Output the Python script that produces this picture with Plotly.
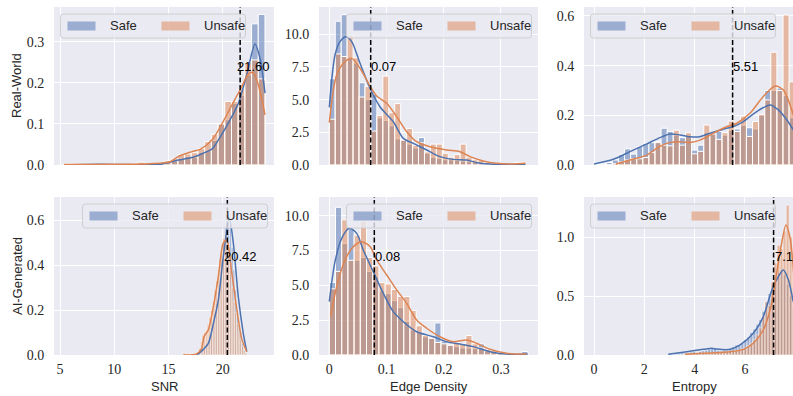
import plotly.graph_objects as go

W, H = 793, 396

# ---------------- data ----------------
# Panel 1: Real-World / SNR
rw_snr_bin_start = 5.37
rw_snr_bin_width = 0.6173
rw_snr_safe = [0.002, 0.001, 0.002, 0.002, 0.001, 0.002, 0.001, 0.0, 0.001, 0.001,
               0.002, 0.001, 0.002, 0.003, 0.004, 0.006, 0.01, 0.015, 0.02, 0.018,
               0.03, 0.035, 0.06, 0.1, 0.11, 0.15, 0.17, 0.22, 0.344, 0.367]
rw_snr_unsafe = [0.002, 0.003, 0.001, 0.002, 0.002, 0.001, 0.002, 0.003, 0.002, 0.002,
                 0.004, 0.007, 0.003, 0.004, 0.006, 0.01, 0.015, 0.025, 0.027, 0.03,
                 0.04, 0.057, 0.075, 0.1, 0.155, 0.155, 0.185, 0.25, 0.256, 0.21]
rw_snr_kde_safe_x = [5.37, 8.69, 11.45, 14.22, 15.9, 17.4, 18.3, 19.05, 19.8, 20.67, 21.43, 22.21, 22.97, 23.43, 23.89]
rw_snr_kde_safe_y = [0.0005, 0.002, 0.001, 0.002, 0.012, 0.02, 0.03, 0.04, 0.07, 0.11, 0.15, 0.22, 0.295, 0.26, 0.175]
rw_snr_kde_unsafe_x = [5.37, 11.0, 13.29, 15.14, 16.0, 17.1, 17.9, 19.06, 20.12, 21.0, 21.73, 22.37, 22.8, 23.28, 23.89]
rw_snr_kde_unsafe_y = [0.001, 0.002, 0.003, 0.008, 0.022, 0.032, 0.038, 0.063, 0.11, 0.154, 0.19, 0.222, 0.225, 0.195, 0.122]

# Panel 2: Real-World / Edge Density
rw_edge_bin_start = 0.0
rw_edge_bin_width = 0.0104
rw_edge_safe = [6.6, 11.0, 11.5, 8.2, 7.8, 6.3, 5.0, 5.4, 3.6, 3.4, 3.0, 2.0, 1.9, 1.6, 1.3, 2.1,
                0.9, 0.6, 0.5, 0.4, 0.4, 0.35, 0.3, 0.25, 0.2, 0.1, 0.05, 0.05, 0.05, 0.0,
                0.05, 0.05, 0.05]
rw_edge_unsafe = [3.5, 8.5, 8.3, 9.9, 8.2, 5.2, 6.0, 2.6, 3.8, 6.8, 4.0, 4.7, 1.9, 2.8, 1.5, 1.7,
                  1.0, 1.6, 1.6, 0.9, 0.6, 0.8, 1.6, 0.6, 0.4, 0.35, 0.2, 0.1, 0.05, 0.05,
                  0.1, 0.2, 0.2]
rw_edge_kde_safe_x = [0.0, 0.0100, 0.0187, 0.0292, 0.0392, 0.0537, 0.0712, 0.0886, 0.1119, 0.1294,
                      0.1469, 0.1703, 0.1935, 0.2168, 0.2402, 0.2577, 0.2809, 0.3101, 0.343]
rw_edge_kde_safe_y = [4.41, 8.42, 9.44, 9.82, 9.44, 7.78, 5.87, 4.46, 3.31, 2.04,
                      1.66, 1.15, 0.64, 0.43, 0.38, 0.18, 0.08, 0.05, 0.05]
rw_edge_kde_unsafe_x = [0.0, 0.0129, 0.0274, 0.0392, 0.0537, 0.0712, 0.0829, 0.1003, 0.1178, 0.1353,
                        0.1528, 0.1760, 0.2052, 0.2285, 0.2460, 0.2692, 0.2927, 0.3217, 0.343]
rw_edge_kde_unsafe_y = [3.24, 6.89, 7.9, 8.16, 7.4, 6.04, 5.28, 4.72, 3.7, 2.55,
                        1.78, 1.4, 1.15, 1.02, 0.64, 0.31, 0.13, 0.08, 0.13]

# Panel 3: Real-World / Entropy
rw_ent_bin_start = 0.0
rw_ent_bin_width = 0.2424
rw_ent_safe = [0.003, 0.004, 0.01, 0.02, 0.043, 0.065, 0.044, 0.074, 0.087, 0.09, 0.095,
               0.148, 0.135, 0.12, 0.11, 0.115, 0.06, 0.08, 0.13, 0.13, 0.135, 0.12,
               0.14, 0.145, 0.16, 0.15, 0.145, 0.2, 0.3, 0.3, 0.31, 0.28, 0.19]
rw_ent_unsafe = [0.0, 0.0, 0.0, 0.005, 0.012, 0.02, 0.025, 0.025, 0.03, 0.05, 0.09,
                 0.08, 0.077, 0.14, 0.08, 0.13, 0.045, 0.055, 0.161, 0.125, 0.103, 0.13,
                 0.177, 0.135, 0.197, 0.115, 0.175, 0.204, 0.262, 0.454, 0.3, 0.604, 0.335]
rw_ent_kde_safe_x = [0.0, 0.767, 1.43, 2.097, 2.62, 3.02, 3.42, 3.82, 4.21, 4.61, 5.14, 5.54, 5.94, 6.47, 7.0, 7.33, 7.67, 7.93]
rw_ent_kde_safe_y = [0.004, 0.023, 0.054, 0.085, 0.11, 0.125, 0.121, 0.114, 0.114, 0.128, 0.144, 0.155, 0.175, 0.215, 0.242, 0.222, 0.181, 0.14]
rw_ent_kde_unsafe_x = [0.87, 1.43, 2.097, 2.49, 2.89, 3.29, 3.82, 4.21, 4.75, 5.28, 5.68, 6.2, 6.73, 7.2, 7.53, 7.93]
rw_ent_kde_unsafe_y = [0.004, 0.02, 0.04, 0.067, 0.087, 0.094, 0.091, 0.1, 0.128, 0.155, 0.168, 0.208, 0.276, 0.318, 0.302, 0.2]

# Panel 4: AI-Generated / SNR
ai_snr_bin_start = 16.36
ai_snr_bin_width = 0.158
ai_snr_safe = [0, 0, 0, 0, 0, 0, 0, 0.002, 0.005, 0.01, 0.02, 0.03, 0.04, 0.05, 0.06, 0.09,
               0.12, 0.15, 0.19, 0.23, 0.28, 0.34, 0.42, 0.5, 0.57, 0.62, 0.64, 0.58, 0.48,
               0.38, 0.29, 0.2, 0.13, 0.09, 0.05, 0.02, 0.01]
ai_snr_unsafe = [0.01, 0.0, 0.005, 0.0, 0.005, 0.0, 0.005, 0.01, 0.015, 0.03, 0.06, 0.09, 0.1,
                 0.11, 0.14, 0.17, 0.2, 0.24, 0.29, 0.33, 0.38, 0.43, 0.48, 0.52, 0.54, 0.5,
                 0.45, 0.38, 0.3, 0.24, 0.19, 0.14, 0.1, 0.07, 0.04, 0.02, 0.01]
ai_snr_kde_safe_x = [17.60, 18.21, 18.67, 19.13, 19.59, 20.05, 20.60, 20.97, 21.43, 21.89, 22.21]
ai_snr_kde_safe_y = [0.0, 0.025, 0.052, 0.14, 0.245, 0.44, 0.61, 0.5, 0.26, 0.097, 0.015]
ai_snr_kde_unsafe_x = [16.36, 17.60, 18.06, 18.27, 18.67, 19.13, 19.59, 20.05, 20.36, 20.82, 21.29, 21.75, 22.21]
ai_snr_kde_unsafe_y = [0.0, 0.005, 0.03, 0.082, 0.112, 0.215, 0.35, 0.5, 0.513, 0.37, 0.205, 0.072, 0.015]

# Panel 5: AI-Generated / Edge Density
ai_edge_bin_start = 0.0
ai_edge_bin_width = 0.01085
ai_edge_safe = [5.2, 10.6, 8.0, 9.1, 6.8, 7.0, 6.0, 5.6, 4.6, 4.4, 3.9, 3.4, 2.4, 1.8, 1.6, 1.3,
                1.2, 2.3, 1.0, 0.7, 0.6, 0.5, 0.5, 0.45, 0.8, 0.3, 0.2, 0.1, 0.05, 0.05, 0.1, 0.25]
ai_edge_unsafe = [4.75, 6.0, 9.7, 6.8, 8.6, 9.6, 7.0, 6.4, 5.2, 5.1, 4.7, 4.2, 4.2, 3.2, 2.1, 1.4,
                  1.2, 0.9, 0.8, 0.7, 0.9, 0.8, 1.4, 0.8, 0.5, 0.4, 0.3, 0.15, 0.05, 0.05, 0.05, 0.05]
ai_edge_kde_safe_x = [0.0, 0.0100, 0.0217, 0.035, 0.0479, 0.0594, 0.0769, 0.0944, 0.1119, 0.1294,
                      0.1528, 0.1818, 0.2052, 0.2285, 0.2517, 0.2809, 0.3159, 0.347]
ai_edge_kde_safe_y = [3.83, 6.7, 8.37, 9.09, 8.73, 7.54, 5.98, 4.43, 3.11, 2.39,
                      1.67, 1.31, 0.95, 0.79, 0.6, 0.24, 0.05, 0.07]
ai_edge_kde_unsafe_x = [0.0024, 0.0129, 0.0274, 0.042, 0.0566, 0.0712, 0.0829, 0.1003, 0.1178, 0.1353,
                        0.1528, 0.1703, 0.1935, 0.2168, 0.2402, 0.2577, 0.2809, 0.3101, 0.345]
ai_edge_kde_unsafe_y = [2.75, 4.9, 6.82, 7.78, 8.13, 7.78, 6.82, 5.74, 4.67, 3.71,
                        2.51, 1.92, 1.31, 0.95, 1.08, 0.84, 0.41, 0.12, 0.07]

# Panel 6: AI-Generated / Entropy
ai_ent_bin_start = 2.96
ai_ent_bin_width = 0.12
ai_ent_safe = [0.01, 0.0, 0.01, 0.015, 0.02, 0.015, 0.02, 0.025, 0.03, 0.02, 0.03, 0.035,
               0.04, 0.05, 0.06, 0.055, 0.04, 0.035, 0.04, 0.04, 0.05, 0.07, 0.085, 0.08,
               0.1, 0.13, 0.15, 0.19, 0.22, 0.26, 0.3, 0.37, 0.45, 0.52, 0.6, 0.66,
               0.7, 0.72, 0.68, 0.6, 0.5, 0.4]
ai_ent_unsafe = [0, 0, 0, 0, 0, 0.005, 0.01, 0.01, 0.01, 0.015, 0.01, 0.015,
                 0.02, 0.015, 0.02, 0.02, 0.02, 0.025, 0.02, 0.03, 0.03, 0.03, 0.035, 0.04,
                 0.05, 0.06, 0.08, 0.1, 0.13, 0.17, 0.23, 0.33, 0.45, 0.42, 0.62, 0.78,
                 0.93, 0.9, 1.05, 1.27, 1.0, 0.75]
ai_ent_kde_safe_x = [2.95, 3.69, 4.35, 4.68, 4.88, 5.41, 5.81, 6.33, 6.73, 7.07, 7.33, 7.53, 7.73, 7.92]
ai_ent_kde_safe_y = [0.006, 0.028, 0.048, 0.057, 0.05, 0.048, 0.085, 0.184, 0.325, 0.55, 0.664, 0.72, 0.636, 0.452]
ai_ent_kde_unsafe_x = [3.62, 4.35, 4.88, 5.41, 5.94, 6.33, 6.73, 7.0, 7.26, 7.46, 7.63, 7.79, 7.95]
ai_ent_kde_unsafe_y = [0.006, 0.014, 0.02, 0.028, 0.048, 0.099, 0.212, 0.381, 0.692, 0.946, 1.102, 1.0, 0.664]

# thresholds (dashed lines) and their labels
thresholds = [21.60, 0.0724, 5.51, 20.42, 0.0787, 7.14]
threshold_labels = ["21.60", "0.07", "5.51", "20.42", "0.08", "7.14"]

series_names = ["Safe", "Unsafe"]
row_names = ["Real-World", "AI-Generated"]
col_names = ["SNR", "Edge Density", "Entropy"]
x_ticks = [[5, 10, 15, 20], [0.0, 0.1, 0.2, 0.3], [0, 2, 4, 6, 8]]
y_ticks = [[0.0, 0.1, 0.2, 0.3], [0.0, 2.5, 5.0, 7.5, 10.0], [0.0, 0.2, 0.4, 0.6],
           [0.0, 0.2, 0.4, 0.6], [0.0, 2.5, 5.0, 7.5, 10.0], [0.0, 0.5, 1.0]]

panels = [
    (rw_snr_bin_start, rw_snr_bin_width, rw_snr_safe, rw_snr_unsafe,
     rw_snr_kde_safe_x, rw_snr_kde_safe_y, rw_snr_kde_unsafe_x, rw_snr_kde_unsafe_y),
    (rw_edge_bin_start, rw_edge_bin_width, rw_edge_safe, rw_edge_unsafe,
     rw_edge_kde_safe_x, rw_edge_kde_safe_y, rw_edge_kde_unsafe_x, rw_edge_kde_unsafe_y),
    (rw_ent_bin_start, rw_ent_bin_width, rw_ent_safe, rw_ent_unsafe,
     rw_ent_kde_safe_x, rw_ent_kde_safe_y, rw_ent_kde_unsafe_x, rw_ent_kde_unsafe_y),
    (ai_snr_bin_start, ai_snr_bin_width, ai_snr_safe, ai_snr_unsafe,
     ai_snr_kde_safe_x, ai_snr_kde_safe_y, ai_snr_kde_unsafe_x, ai_snr_kde_unsafe_y),
    (ai_edge_bin_start, ai_edge_bin_width, ai_edge_safe, ai_edge_unsafe,
     ai_edge_kde_safe_x, ai_edge_kde_safe_y, ai_edge_kde_unsafe_x, ai_edge_kde_unsafe_y),
    (ai_ent_bin_start, ai_ent_bin_width, ai_ent_safe, ai_ent_unsafe,
     ai_ent_kde_safe_x, ai_ent_kde_safe_y, ai_ent_kde_unsafe_x, ai_ent_kde_unsafe_y),
]

# ---------------- style / geometry ----------------
BLUE = "#4C72B0"
ORANGE = "#DD8452"
BLUE_FILL = "rgba(76,114,176,0.5)"
ORANGE_FILL = "rgba(221,132,82,0.5)"
BG = "#EAEAF2"
TXT = "#262626"
SANS = "Liberation Sans, Arial, sans-serif"
SERIF = "Liberation Serif, Times New Roman, serif"

COL_L = [54, 319, 584]
COL_R = [274, 538, 793]
COL_R_FULL = [274, 538, 804]
ROW_T = [7, 197]
ROW_B = [165, 355]
X_RANGES = [[4.447, 24.72], [-0.018, 0.3649], [-0.4, 7.912]]
Y_MAX = [0.385, 12.09, 0.636, 0.705, 11.34, 1.339]
EDGE_W = [1.0, 1.0, 1.0, 0.5, 1.0, 0.5]
LABEL_SHIFT = [-5, -2, -1.5, -5.5, -1.5, -1]
LEGEND_LEFT = [True, False, True, False, False, True]


def fx(px):
    return px / W


def fy(py):
    return 1 - py / H


fig = go.Figure()
layout = dict(
    width=W, height=H, autosize=False,
    margin=dict(l=0, r=0, t=0, b=0, autoexpand=False),
    paper_bgcolor="white", plot_bgcolor=BG,
    barmode="overlay", showlegend=False, hovermode=False,
    font=dict(family=SANS, size=13, color=TXT),
)
shapes = []
annotations = []

for p, (b0, bw, safe, unsafe, ksx, ksy, kux, kuy) in enumerate(panels):
    r, c = divmod(p, 3)
    n = p + 1
    xa = "x" if n == 1 else f"x{n}"
    ya = "y" if n == 1 else f"y{n}"
    for vals, fill in ((safe, BLUE_FILL), (unsafe, ORANGE_FILL)):
        fig.add_trace(go.Bar(
            x0=b0 + bw / 2, dx=bw, y=vals, width=bw,
            marker=dict(color=fill, line=dict(color="white", width=EDGE_W[p])),
            xaxis=xa, yaxis=ya,
        ))
    for kx, ky, col in ((ksx, ksy, BLUE), (kux, kuy, ORANGE)):
        fig.add_trace(go.Scatter(
            x=kx, y=ky, mode="lines", line=dict(color=col, width=1.5, shape="spline", smoothing=0.8),
            xaxis=xa, yaxis=ya,
        ))

    xkey = "xaxis" if n == 1 else f"xaxis{n}"
    ykey = "yaxis" if n == 1 else f"yaxis{n}"
    layout[xkey] = dict(
        domain=[fx(COL_L[c]), fx(COL_R[c])], range=X_RANGES[c], anchor=ya, automargin=False,
        tickvals=x_ticks[c], showticklabels=(r == 1),
        tickfont=dict(family=SERIF, size=14, color=TXT),
        ticks="outside", ticklen=1, tickcolor="rgba(0,0,0,0)",
        showgrid=True, gridcolor="white", gridwidth=1, zeroline=False, showline=False,
    )
    layout[ykey] = dict(
        domain=[fy(ROW_B[r]), fy(ROW_T[r])], range=[0, Y_MAX[p]], anchor=xa, automargin=False,
        tickvals=y_ticks[p], tickformat=".1f",
        tickfont=dict(family=SERIF, size=14, color=TXT),
        ticks="outside", ticklen=6, tickcolor="rgba(0,0,0,0)",
        showgrid=True, gridcolor="white", gridwidth=1, zeroline=False, showline=False,
    )

    # threshold line + label
    shapes.append(dict(type="line", xref=xa, yref=f"{ya} domain", x0=thresholds[p], x1=thresholds[p],
                       y0=0, y1=1, line=dict(color="black", width=1.5, dash="5px,2.5px"), layer="above"))
    annotations.append(dict(xref=xa, yref=f"{ya} domain", x=thresholds[p], y=0.625,
                            text=threshold_labels[p], showarrow=False, xanchor="left", yanchor="middle",
                            xshift=LABEL_SHIFT[p], font=dict(family=SANS, size=13, color="black")))

    # legend box
    lw, lh = 185, 24
    lx0 = COL_L[c] + 6.5 if LEGEND_LEFT[p] else COL_R[c] - 6.5 - lw
    ly0 = ROW_T[r] + 7
    lx1, ly1, rr = lx0 + lw, ly0 + lh, 3
    path = (f"M {fx(lx0+rr)},{fy(ly0)} L {fx(lx1-rr)},{fy(ly0)} Q {fx(lx1)},{fy(ly0)} {fx(lx1)},{fy(ly0+rr)} "
            f"L {fx(lx1)},{fy(ly1-rr)} Q {fx(lx1)},{fy(ly1)} {fx(lx1-rr)},{fy(ly1)} "
            f"L {fx(lx0+rr)},{fy(ly1)} Q {fx(lx0)},{fy(ly1)} {fx(lx0)},{fy(ly1-rr)} "
            f"L {fx(lx0)},{fy(ly0+rr)} Q {fx(lx0)},{fy(ly0)} {fx(lx0+rr)},{fy(ly0)} Z")
    shapes.append(dict(type="path", xref="paper", yref="paper", path=path,
                       fillcolor="rgba(234,234,242,0.8)", line=dict(color="rgba(204,204,204,0.9)", width=1),
                       layer="above"))
    for k, (name, fill) in enumerate(zip(series_names, (BLUE_FILL, ORANGE_FILL))):
        px0 = lx0 + 7 + 94 * k
        shapes.append(dict(type="rect", xref="paper", yref="paper",
                           x0=fx(px0), x1=fx(px0 + 28), y0=fy(ly0 + 16.5), y1=fy(ly0 + 7.5),
                           fillcolor=fill, line=dict(width=0), layer="above"))
        annotations.append(dict(xref="paper", yref="paper", x=fx(px0 + 40), y=fy(ly0 + 12),
                                text=name, showarrow=False, xanchor="left", yanchor="middle",
                                font=dict(family=SANS, size=13, color=TXT)))

# axis titles
for c, name in enumerate(col_names):
    annotations.append(dict(xref="paper", yref="paper", x=fx((COL_L[c] + COL_R_FULL[c]) / 2), y=fy(386),
                            text=name, showarrow=False, xanchor="center", yanchor="middle",
                            font=dict(family=SANS, size=13, color=TXT)))
for r, name in enumerate(row_names):
    annotations.append(dict(xref="paper", yref="paper", x=fx(17), y=fy((ROW_T[r] + ROW_B[r]) / 2),
                            text=name, showarrow=False, textangle=-90, xanchor="center", yanchor="middle",
                            font=dict(family=SANS, size=13, color=TXT)))

layout["shapes"] = shapes
layout["annotations"] = annotations
fig.update_layout(**layout)
fig.write_html("out.html", config={"displayModeBar": False, "staticPlot": True},
               post_script="document.body.style.margin='0';document.body.style.overflow='hidden';")
